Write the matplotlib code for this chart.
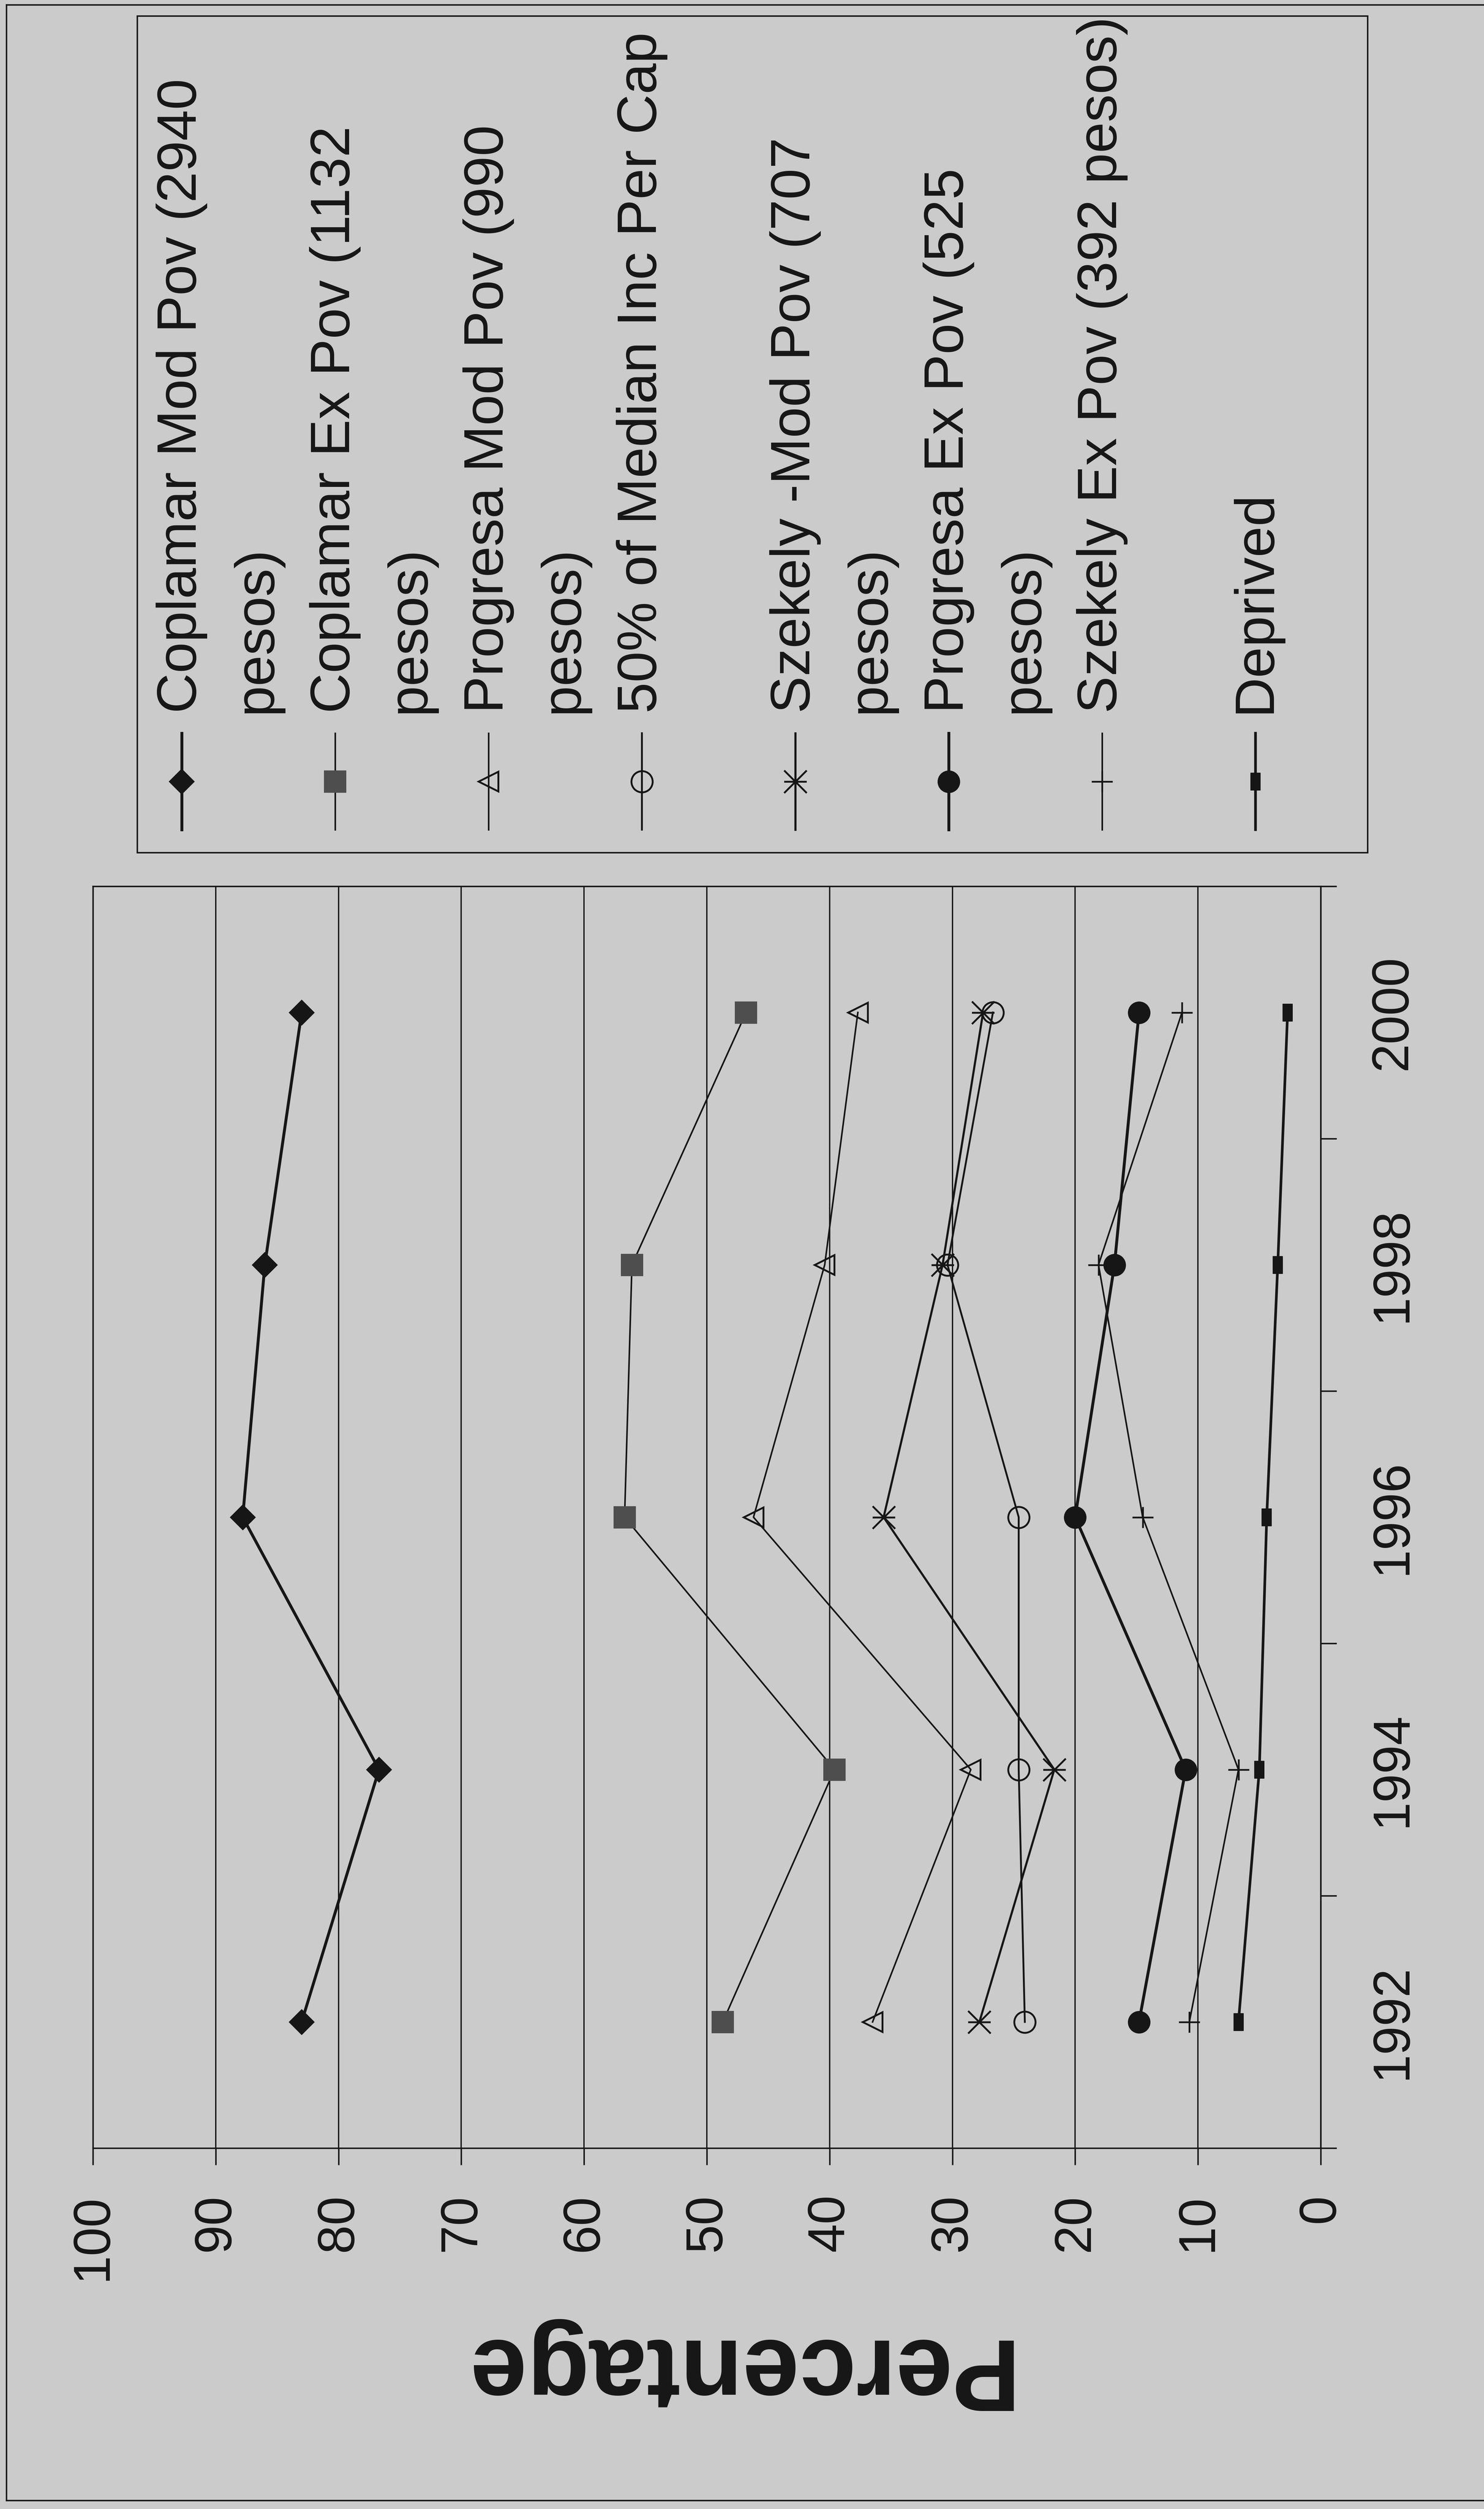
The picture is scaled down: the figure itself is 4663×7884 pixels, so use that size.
import matplotlib
matplotlib.use('Agg')
import matplotlib.pyplot as plt
from matplotlib.path import Path
from matplotlib.patches import Rectangle

plt.rcParams['font.family'] = ['Liberation Sans', 'DejaVu Sans']

years = [1992, 1994, 1996, 1998, 2000]
coplamar_mod = [83.0, 76.7, 87.8, 86.0, 83.0]
coplamar_ex = [48.7, 39.6, 56.7, 56.1, 46.8]
progresa_mod = [36.5, 28.5, 46.2, 40.4, 37.7]
median_50 = [24.1, 24.6, 24.6, 30.4, 26.7]
szekely_mod = [27.8, 21.7, 35.6, 30.8, 27.5]
progresa_ex = [14.8, 11.0, 20.0, 16.8, 14.8]
szekely_ex = [10.7, 6.7, 14.5, 18.1, 11.3]
deprived = [6.7, 5.0, 4.4, 3.5, 2.7]

series = [coplamar_mod, coplamar_ex, progresa_mod, median_50,
          szekely_mod, progresa_ex, szekely_ex, deprived]
labels = ['Coplamar Mod Pov (2940\npesos)',
          'Coplamar Ex Pov (1132\npesos)',
          'Progresa Mod Pov (990\npesos)',
          '50% of Median Inc Per Cap',
          'Szekely -Mod Pov (707\npesos)',
          'Progresa Ex Pov (525\npesos)',
          'Szekely Ex Pov (392 pesos)',
          'Deprived']
pct_ticks = list(range(0, 101, 10))
year_bounds = list(range(1991, 2002, 2))

W, H = 4663, 7884
bg = '#cbcbcb'
ink = '#161616'

# excel "star" (rotated with the page) and "dash" markers
star = Path([(-1, -1), (1, 1), (-1, 1), (1, -1), (-1, 0), (1, 0)],
            [Path.MOVETO, Path.LINETO, Path.MOVETO, Path.LINETO, Path.MOVETO, Path.LINETO])
dash = Path([(-0.27, -0.5), (0.27, -0.5), (0.27, 0.5), (-0.27, 0.5), (-0.27, -0.5)],
            [Path.MOVETO, Path.LINETO, Path.LINETO, Path.LINETO, Path.CLOSEPOLY])

styles = [
    dict(marker='D', ms=13, mfc=ink, mec=ink, lw=2.2),
    dict(marker='s', ms=16, mfc='#4e4e4e', mec='#4e4e4e', lw=1.2),
    dict(marker='<', ms=15, mfc='none', mec=ink, mew=1.4, lw=1.2),
    dict(marker='o', ms=16, mfc='none', mec=ink, mew=1.4, lw=1.4),
    dict(marker=star, ms=17, mfc='none', mec=ink, mew=1.4, lw=1.6),
    dict(marker='o', ms=16, mfc=ink, mec=ink, lw=2.2),
    dict(marker='+', ms=16, mfc='none', mec=ink, mew=1.3, lw=1.2),
    dict(marker=dash, ms=13, mfc=ink, mec=ink, mew=0.5, lw=2.0),
]

fig = plt.figure(figsize=(W / 300, H / 300), dpi=300, facecolor=bg)

# page overlay in pixel coordinates (frame, legend, axis title)
ov = fig.add_axes([0, 0, 1, 1])
ov.set_xlim(0, W)
ov.set_ylim(H, 0)
ov.axis('off')
ov.patch.set_alpha(0)

ov.plot([20, 20], [15, 7857], color=ink, lw=1.1)
ov.plot([20, W], [15, 15], color=ink, lw=1.1)
ov.plot([20, W], [7857, 7857], color=ink, lw=1.1)

ov.add_patch(Rectangle((431, 50), 3866, 2629, fill=False, ec=ink, lw=1.1))
for i, (lab, st) in enumerate(zip(labels, styles)):
    x0 = 571 + 482 * i
    ov.plot([x0, x0], [2304, 2607], color=ink, lw=st['lw'])
    ov.plot([x0], [2456], ls='none', marker=st['marker'], ms=st['ms'],
            mfc=st['mfc'], mec=st['mec'], mew=st.get('mew', 1.0))
    for j, line in enumerate(lab.split('\n')):
        ov.text(x0 + 235 * j, 2241, line, rotation=90, rotation_mode='anchor',
                ha='left', va='center', fontsize=42, color=ink)

ov.text(2300, 7435, 'Percentage', rotation=180, ha='center', va='center',
        fontsize=77, fontweight='bold', color=ink)

# chart, drawn the way it sits on the rotated page
ax = fig.add_axes([292 / W, 1 - 6750 / H, (4150 - 292) / W, (6750 - 2785) / H])
ax.set_facecolor('none')
for vals, st in zip(series, styles):
    ax.plot(vals, years, color=ink, lw=st['lw'], marker=st['marker'], ms=st['ms'],
            mfc=st['mfc'], mec=st['mec'], mew=st.get('mew', 1.0), clip_on=False)

ax.set_xlim(100, 0)
ax.set_xticks(pct_ticks)
ax.set_xticklabels([str(t) for t in pct_ticks], rotation=90)
ax.tick_params(axis='x', direction='out', length=12.7, width=1.1, pad=22,
               labelsize=39, color=ink, labelcolor=ink)
ax.xaxis.grid(True, color=ink, lw=1.0)
ax.set_axisbelow(True)

ax.set_ylim(1991, 2001)
ax.yaxis.tick_right()
ax.set_yticks(year_bounds)
ax.set_yticklabels([])
ax.set_yticks(years, minor=True)
ax.set_yticklabels([str(y) for y in years], minor=True, rotation=90, va='center')
ax.tick_params(axis='y', which='major', direction='out', length=12, width=1.1,
               right=True, left=False, color=ink)
ax.tick_params(axis='y', which='minor', length=0, pad=36, labelsize=39,
               right=True, left=False, labelright=True, labelleft=False, labelcolor=ink)
for sp in ax.spines.values():
    sp.set_color(ink)
    sp.set_linewidth(1.1)

fig.savefig('out.png', dpi=300, facecolor=bg)
